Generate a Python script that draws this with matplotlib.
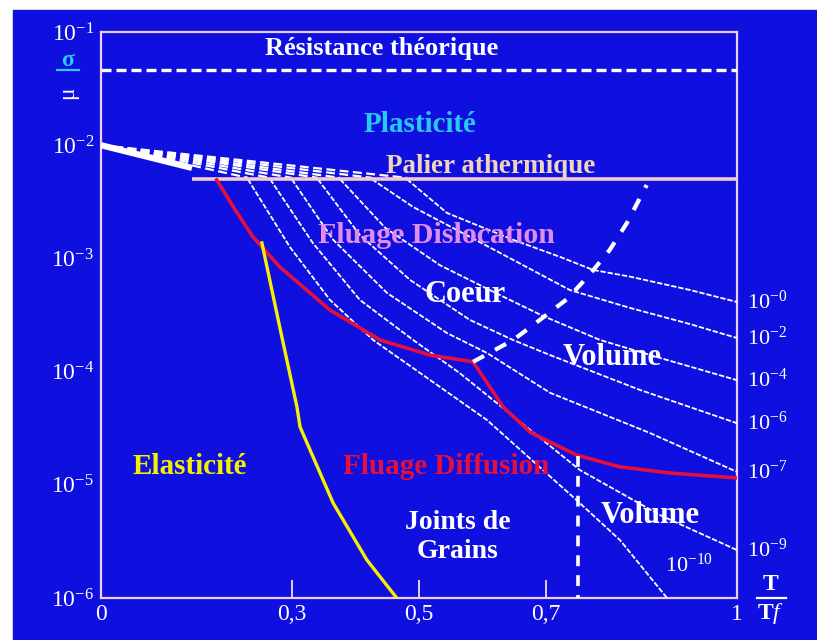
import numpy as np
import matplotlib.pyplot as plt
from matplotlib.lines import Line2D
from matplotlib.patches import Rectangle

plt.rcParams['font.family'] = ['Liberation Serif', 'DejaVu Serif']
plt.rcParams['mathtext.fontset'] = 'custom'
plt.rcParams['mathtext.rm'] = 'Liberation Serif'
plt.rcParams['mathtext.it'] = 'Liberation Serif:italic'
plt.rcParams['mathtext.bf'] = 'Liberation Serif:bold'

# =====================================================
# DATA  (T/Tf , sigma/mu)
# =====================================================

resistance_level = 4.6e-2
palier_level = 5e-3
palier_start = 0.143
origin_stress = 1e-2

# iso strain-rate curves, from the athermal plateau to the right edge
rate_labels = ["10$^{-0}$", "10$^{-2}$", "10$^{-4}$", "10$^{-6}$",
               "10$^{-7}$", "10$^{-9}$", "10$^{-10}$"]

rate_0_x = [0.481, 0.544, 0.648, 0.722, 0.774, 0.832, 0.926, 1.0]
rate_0_y = [5e-3, 2.52e-3, 1.46e-3, 1.03e-3, 7.9e-4, 6.9e-4, 5.26e-4, 4.12e-4]

rate_2_x = [0.426, 0.491, 0.580, 0.648, 0.737, 0.832, 0.926, 1.0]
rate_2_y = [5e-3, 2.84e-3, 1.55e-3, 9.7e-4, 5.26e-4, 3.65e-4, 2.63e-4, 1.98e-4]

rate_4_x = [0.376, 0.447, 0.533, 0.627, 0.695, 0.785, 0.879, 1.0]
rate_4_y = [5e-3, 1.86e-3, 8.7e-4, 4.75e-4, 3.1e-4, 1.9e-4, 1.32e-4, 8.4e-5]

rate_6_x = [0.341, 0.407, 0.486, 0.580, 0.648, 0.706, 0.847, 1.0]
rate_6_y = [5e-3, 1.61e-3, 6.45e-4, 2.86e-4, 1.9e-4, 1.4e-4, 6.9e-5, 3.5e-5]

rate_7_x = [0.300, 0.365, 0.450, 0.544, 0.607, 0.706, 0.863, 1.0]
rate_7_y = [5e-3, 1.46e-3, 4.94e-4, 2.19e-4, 1.46e-4, 6.5e-5, 2.87e-5, 1.30e-5]

rate_9_x = [0.266, 0.333, 0.407, 0.491, 0.564, 0.753, 0.879, 1.0]
rate_9_y = [5e-3, 1.37e-3, 4.3e-4, 1.9e-4, 9.7e-5, 1.35e-5, 5.4e-6, 2.65e-6]

rate_10_x = [0.231, 0.297, 0.360, 0.428, 0.502, 0.607, 0.748, 0.816, 0.890]
rate_10_y = [5e-3, 1.26e-3, 4.3e-4, 1.9e-4, 9.7e-5, 3.73e-5, 7.3e-6, 3.25e-6, 1e-6]

# boundary dislocation creep / diffusion creep
diffusion_x = [0.182, 0.211, 0.239, 0.281, 0.360, 0.439, 0.517, 0.585,
               0.632, 0.675, 0.748, 0.816, 0.895, 1.0]
diffusion_y = [4.93e-3, 2.68e-3, 1.55e-3, 8.4e-4, 3.5e-4, 1.9e-4, 1.4e-4, 1.22e-4,
               4.9e-5, 2.9e-5, 1.83e-5, 1.44e-5, 1.27e-5, 1.15e-5]

# elastic limit
elastic_x = [0.253, 0.281, 0.308, 0.313, 0.365, 0.418, 0.465]
elastic_y = [1.37e-3, 2.48e-4, 4.9e-5, 3.24e-5, 6.9e-6, 2.17e-6, 1e-6]

# core / volume diffusion boundary
coeur_x = [0.585, 0.648, 0.690, 0.733, 0.769, 0.800, 0.827, 0.858]
coeur_y = [1.22e-4, 1.9e-4, 2.86e-4, 4.38e-4, 7.28e-4, 1.19e-3, 2.06e-3, 4.45e-3]

# grain boundary / volume boundary
joint_x = 0.75
joint_y = [1.8e-5, 1e-6]

y_ticks = [1e-6, 1e-5, 1e-4, 1e-3, 1e-2, 1e-1]
y_ticklabels = ["10$^{-6}$", "10$^{-5}$", "10$^{-4}$", "10$^{-3}$", "10$^{-2}$", "10$^{-1}$"]
x_ticks = [0, 0.3, 0.5, 0.7, 1]
x_ticklabels = ["0", "0,3", "0,5", "0,7", "1"]

# =====================================================
# STYLE
# =====================================================

BLUE = "#0f0fe0"
FRAME = "#e8d0f0"
WHITE = "white"
RED = "#e3103e"
YELLOW = "#f4f000"

fig = plt.figure(figsize=(8.17, 6.40), dpi=100, facecolor="white")
fig.add_artist(Rectangle((13 / 817, 0), 1, 1 - 10 / 640,
                         transform=fig.transFigure, color=BLUE, zorder=-10))

ax = fig.add_axes([101 / 817, 42 / 640, 636 / 817, 566 / 640])
ax.set_facecolor(BLUE)
ax.set_yscale("log")
ax.set_xlim(0, 1)
ax.set_ylim(1e-6, 1e-1)

for s in ax.spines.values():
    s.set_color(FRAME)
    s.set_linewidth(1.6)

ax.set_yticks(y_ticks)
ax.set_yticklabels(y_ticklabels)
ax.yaxis.set_minor_locator(plt.NullLocator())
ax.set_xticks(x_ticks)
ax.set_xticklabels(x_ticklabels)
ax.tick_params(axis="y", length=0, pad=5, labelsize=17, labelcolor=WHITE)
ax.tick_params(axis="x", direction="in", length=13, width=1.4, color=FRAME,
               pad=4, labelsize=17, labelcolor=WHITE)

# =====================================================
# CURVES
# =====================================================

rate_curves = [
    (rate_0_x, rate_0_y), (rate_2_x, rate_2_y), (rate_4_x, rate_4_y),
    (rate_6_x, rate_6_y), (rate_7_x, rate_7_y), (rate_9_x, rate_9_y),
    (rate_10_x, rate_10_y),
]

# band above the plateau, all curves converging to 10^-2 at T = 0
ax.plot([0, palier_start], [origin_stress, 6.3e-3], color=WHITE, lw=4.5,
        solid_capstyle="butt", zorder=3)
for cx, cy in rate_curves:
    ax.plot([0, cx[0]], [origin_stress, 5.15e-3], color=WHITE, lw=1.6,
            ls=(0, (4, 2)), zorder=3)

for (cx, cy), lab in zip(rate_curves, rate_labels):
    ax.plot(cx, cy, color=WHITE, lw=1.3, ls=(0, (3, 1)), zorder=3)
    if cx[-1] >= 1.0:
        ax.annotate(lab, (1.0, cy[-1]), xytext=(7, 0), textcoords="offset points",
                    color=WHITE, fontsize=16, va="center", ha="left",
                    annotation_clip=False)

ax.text(0.925, 1.95e-6, rate_labels[-1], color=WHITE, fontsize=16,
        ha="center", va="center")

ax.axhline(resistance_level, color=WHITE, lw=2.4, ls=(0, (3, 1.5)), zorder=3)
ax.plot([palier_start, 1.0], [palier_level, palier_level], color="#f2cccc",
        lw=2.6, solid_capstyle="butt", zorder=4)

ax.plot(diffusion_x, diffusion_y, color=RED, lw=2.6, zorder=5)
ax.plot(elastic_x, elastic_y, color=YELLOW, lw=2.4, zorder=5)
ax.plot(coeur_x, coeur_y, color=WHITE, lw=3, ls=(0, (3, 3)), zorder=5)
ax.plot([joint_x, joint_x], joint_y, color=WHITE, lw=2.6, ls=(0, (3, 2.5)),
        zorder=5)

# =====================================================
# REGION LABELS
# =====================================================

bold = dict(fontweight="bold", ha="center", va="center")
ax.text(0.442, 7.2e-2, "Résistance théorique", color=WHITE, fontsize=19, **bold)
ax.text(0.502, 1.51e-2, "Plasticité", color="#28c8f0", fontsize=21, **bold)
ax.text(0.612, 6.5e-3, "Palier athermique", color="#f0d4bc", fontsize=19.5, **bold)
ax.text(0.528, 1.58e-3, "Fluage Dislocation", color="#e08ce8", fontsize=21.5, **bold)
ax.text(0.572, 4.75e-4, "Coeur", color=WHITE, fontsize=22, **bold)
ax.text(0.803, 1.32e-4, "Volume", color=WHITE, fontsize=22, **bold)
ax.text(0.140, 1.44e-5, "Elasticité", color=YELLOW, fontsize=21, **bold)
ax.text(0.542, 1.44e-5, "Fluage Diffusion", color=RED, fontsize=21, **bold)
ax.text(0.561, 3.46e-6, "Joints de\nGrains", color=WHITE, fontsize=20,
        linespacing=1.2, **bold)
ax.text(0.863, 5.4e-6, "Volume", color=WHITE, fontsize=22, **bold)

# axis names
fig.text(68 / 817, 1 - 60 / 640, "σ", color="#30c8f0", fontsize=17,
         fontweight="bold", ha="center", va="center")
fig.add_artist(Line2D([57 / 817, 79 / 817], [1 - 70 / 640, 1 - 70 / 640],
                      color="#30c8f0", lw=1.6))
fig.text(68 / 817, 1 - 93 / 640, "μ", color=WHITE, fontsize=17,
         rotation=90, ha="center", va="center")

fig.text(771 / 817, 1 - 584 / 640, "T", color=WHITE, fontsize=17,
         fontweight="bold", ha="center", va="center")
fig.add_artist(Line2D([757 / 817, 786 / 817], [1 - 598 / 640, 1 - 598 / 640],
                      color=WHITE, lw=1.6))
fig.text(771 / 817, 1 - 613 / 640, "T$\\mathit{f}$", color=WHITE, fontsize=17,
         fontweight="bold", ha="center", va="center")

fig.savefig("out.png", dpi=100, facecolor=fig.get_facecolor())
